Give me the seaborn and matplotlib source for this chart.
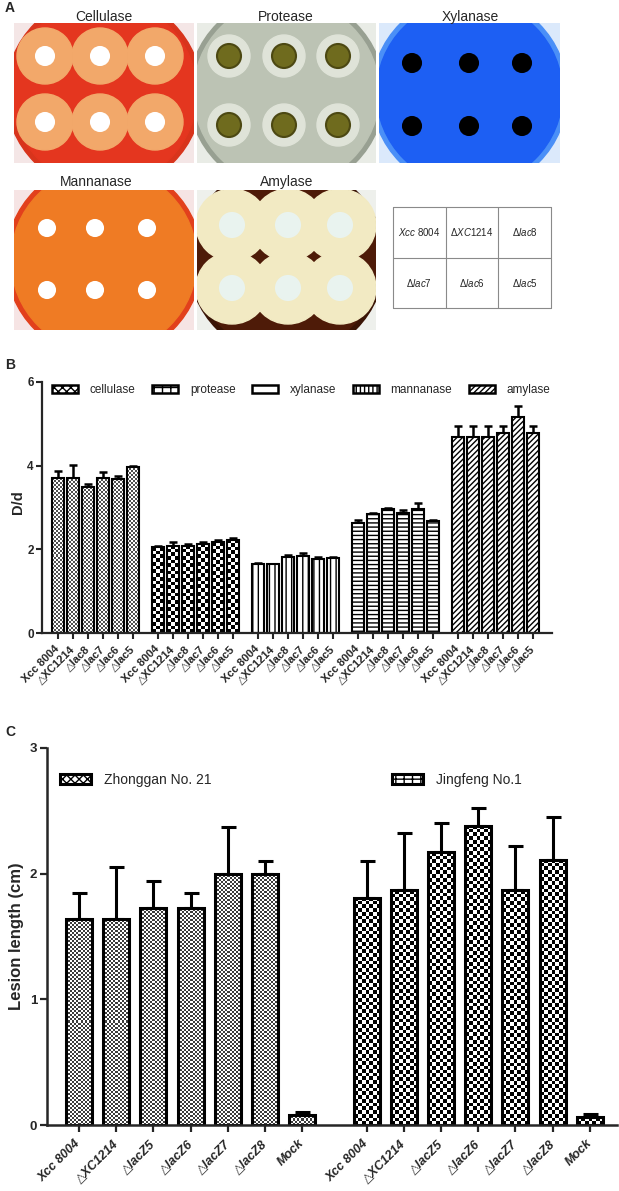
import numpy as np
import pandas as pd
import seaborn as sns
import matplotlib.pyplot as plt
from matplotlib.patches import Circle, Rectangle, Patch
from matplotlib.colors import ListedColormap

W, H = 619, 1191

# panel A : plate photos (drawn as simple sketches)
plate_names = ["Cellulase", "Protease", "Xylanase", "Mannanase", "Amylase"]
plate_boxes = [(14, 23, 180, 140), (197, 23, 179, 140), (379, 23, 181, 140),
               (14, 190, 180, 140), (197, 190, 179, 140)]
title_x = [104, 286, 470, 96, 287]
title_y = [17, 17, 17, 182, 182]
hole_cols = [[31, 86, 141], [32, 87, 141], [33, 90, 143], [33, 81, 133], [35, 91, 143]]
hole_rows = [[33, 99], [33, 102], [40, 103], [38, 100], [35, 98]]
# corner, rim, plate, halo, hole
plate_colors = [
    ("#f4e6e6", "#d8341c", "#e4361f", "#f2a86a", "#ffffff"),
    ("#e9ece6", "#98a092", "#bcc3b4", "#dfe3d8", "#6f6b1e"),
    ("#dbe9fb", "#4a8ff7", "#1d5ff3", "#1d5ff3", "#000000"),
    ("#f6e4e4", "#e2401c", "#ef7b24", "#ef7b24", "#ffffff"),
    ("#eef0ec", "#3a1405", "#4e1b08", "#f2eac3", "#e9f3ef"),
]
halo_r = [28, 21, 0, 0, 36]
hole_r = [9, 12, 9, 8, 12]
table_labels = [[r"$\mathit{Xcc}$ 8004", r"$\Delta\mathit{XC1214}$", r"$\Delta\mathit{lac8}$"],
                [r"$\Delta\mathit{lac7}$", r"$\Delta\mathit{lac6}$", r"$\Delta\mathit{lac5}$"]]

# panel B : D/d ratio per enzyme
strains_b = ["Xcc 8004", "\u25b3XC1214", "\u25b3lac8", "\u25b3lac7", "\u25b3lac6", "\u25b3lac5"]
enzymes = ["cellulase", "protease", "xylanase", "mannanase", "amylase"]
cellulase = [3.70, 3.71, 3.49, 3.71, 3.67, 3.97]
cellulase_sd = [0.18, 0.31, 0.07, 0.15, 0.09, 0.03]
protease = [2.05, 2.09, 2.08, 2.13, 2.17, 2.23]
protease_sd = [0.02, 0.08, 0.05, 0.04, 0.05, 0.03]
xylanase = [1.66, 1.64, 1.81, 1.84, 1.77, 1.79]
xylanase_sd = [0.02, 0.02, 0.06, 0.08, 0.04, 0.03]
mannanase = [2.62, 2.84, 2.96, 2.88, 2.96, 2.68]
mannanase_sd = [0.08, 0.03, 0.04, 0.06, 0.14, 0.03]
amylase = [4.69, 4.69, 4.69, 4.79, 5.17, 4.79]
amylase_sd = [0.25, 0.25, 0.25, 0.15, 0.25, 0.15]

# panel C : lesion length on two cultivars
strains_c = ["Xcc 8004", "\u25b3XC1214", "\u25b3lacZ5", "\u25b3lacZ6", "\u25b3lacZ7", "\u25b3lacZ8", "Mock"]
cultivars = ["Zhonggan No. 21", "Jingfeng No.1"]
zhonggan = [1.64, 1.64, 1.73, 1.73, 2.00, 2.00, 0.08]
zhonggan_sd = [0.21, 0.41, 0.21, 0.12, 0.37, 0.10, 0.02]
jingfeng = [1.81, 1.87, 2.17, 2.38, 1.87, 2.11, 0.06]
jingfeng_sd = [0.29, 0.45, 0.23, 0.14, 0.35, 0.34, 0.03]

sns.set_style("ticks")
plt.rcParams['font.family'] = ['Liberation Sans', 'DejaVu Sans']
plt.rcParams['mathtext.fontset'] = 'custom'
plt.rcParams['mathtext.rm'] = 'Liberation Sans'
plt.rcParams['mathtext.it'] = 'Liberation Sans:italic'
plt.rcParams['hatch.linewidth'] = 1.0

fig = plt.figure(figsize=(W / 100, H / 100), dpi=100)


def fig_rect(x, y, w, h):
    return [x / W, 1 - (y + h) / H, w / W, h / H]


def checker(ax, p, cell, c1, c2):
    # fill a bar with a checkerboard of fixed pixel size
    x0, y0, w, h = p.get_x(), p.get_y(), p.get_width(), p.get_height()
    (px0, py0), (px1, py1) = ax.transData.transform([(x0, y0), (x0 + w, y0 + h)])
    nx = max(1, int(round(abs(px1 - px0) / cell)))
    ny = max(1, int(round(abs(py1 - py0) / cell)))
    grid = np.add.outer(np.arange(ny), np.arange(nx)) % 2
    z = p.get_zorder()
    ax.imshow(grid, extent=(x0, x0 + w, y0, y0 + h), origin='lower', aspect='auto',
              cmap=ListedColormap([c1, c2]), interpolation='nearest', zorder=z + 0.01)
    p.set_facecolor('none')
    p.set_zorder(z + 0.02)


# ---------------- panel A
fig.text(5 / W, 1 - 8 / H, "A", fontsize=10, fontweight='bold', va='center')
for k, name in enumerate(plate_names):
    x, y, w, h = plate_boxes[k]
    ax = fig.add_axes(fig_rect(x, y, w, h))
    ax.set_xlim(0, w)
    ax.set_ylim(h, 0)
    ax.axis('off')
    corner, rim, plate, halo, hole = plate_colors[k]
    ax.add_patch(Rectangle((0, 0), w, h, color=corner))
    ax.add_patch(Circle((w / 2, h / 2), 98, color=rim))
    ax.add_patch(Circle((w / 2, h / 2), 93, color=plate))
    for cy in hole_rows[k]:
        for cx in hole_cols[k]:
            if halo_r[k]:
                ax.add_patch(Circle((cx, cy), halo_r[k], color=halo))
    for cy in hole_rows[k]:
        for cx in hole_cols[k]:
            ax.add_patch(Circle((cx, cy), hole_r[k], facecolor=hole,
                                edgecolor='#4c4812' if k == 1 else hole, lw=1.5))
    fig.text(title_x[k] / W, 1 - title_y[k] / H, name, fontsize=10, ha='center', va='center')

axt = fig.add_axes(fig_rect(393, 207, 158, 101))
axt.set_xlim(0, 3)
axt.set_ylim(2, 0)
axt.axis('off')
for i in range(4):
    axt.plot([i, i], [0, 2], color='#8a8a8a', lw=0.8, clip_on=False)
for j in range(3):
    axt.plot([0, 3], [j, j], color='#8a8a8a', lw=0.8, clip_on=False)
for r, row in enumerate(table_labels):
    for c, lab in enumerate(row):
        axt.text(c + 0.5, r + 0.5, lab, ha='center', va='center', fontsize=7)

# ---------------- panel B
axb = fig.add_axes(fig_rect(42, 382, 510, 251))
fig.text(5 / W, 1 - 365 / H, "B", fontsize=10, fontweight='bold', va='center')
values_b = {"cellulase": (cellulase, cellulase_sd), "protease": (protease, protease_sd),
            "xylanase": (xylanase, xylanase_sd), "mannanase": (mannanase, mannanase_sd),
            "amylase": (amylase, amylase_sd)}
rows = []
for g, e in enumerate(enzymes):
    for i, s in enumerate(strains_b):
        rows.append({"enzyme": e, "strain": s, "pos": g * (len(strains_b) + 0.667) + i,
                     "value": values_b[e][0][i], "sd": values_b[e][1][i]})
df_b = pd.DataFrame(rows)

axb.set_xlim(-1.07, 32.93)
axb.set_ylim(0, 6)
style_b = {"cellulase": ("checker", 2.0, '#505050'), "protease": ("checker", 3.7, 'black'),
           "xylanase": ("hatch", '|||'), "mannanase": ("hatch", '----'),
           "amylase": ("hatch", '//////')}
for e in enzymes:
    sub = df_b[df_b['enzyme'] == e]
    n0 = len(axb.patches)
    sns.barplot(data=sub, x='pos', y='value', native_scale=True, orient='x', color='white',
                edgecolor='black', linewidth=1.5, width=0.75, errorbar=None, ax=axb)
    axb.errorbar(sub['pos'], sub['value'], yerr=[np.zeros(len(sub)), sub['sd']], fmt='none',
                 ecolor='black', elinewidth=1.8, capsize=3, capthick=1.8, zorder=0.5)
    axb.set_xlim(-1.07, 32.93)
    axb.set_ylim(0, 6)
    for p in axb.patches[n0:]:
        st = style_b[e]
        if st[0] == "checker":
            checker(axb, p, st[1], st[2], 'white')
        else:
            p.set_hatch(st[1])
axb.set_xlim(-1.07, 32.93)
axb.set_ylim(0, 6)
sns.despine(ax=axb)
for sp in ['left', 'bottom']:
    axb.spines[sp].set_linewidth(1.6)
axb.set_yticks([0, 2, 4, 6])
axb.set_yticklabels(['0', '2', '4', '6'], fontsize=8.5, fontweight='bold')
axb.set_xticks(df_b['pos'])
axb.set_xticklabels(df_b['strain'], rotation=45, ha='right', va='center',
                    rotation_mode='anchor', fontsize=8, fontweight='bold')
axb.tick_params(length=4, width=1.5, pad=2)
axb.tick_params(axis='x', pad=6)
axb.set_xlabel('')
axb.set_ylabel('D/d', fontsize=10.5, fontweight='bold')
axb.yaxis.set_label_coords(-0.033, 0.52)

leg_hatch = ['xxxx', '++', '', '||||', '//////']
handles = [Patch(facecolor='white', edgecolor='black', linewidth=1.8, hatch=hh) for hh in leg_hatch]
axb.legend(handles, enzymes, ncol=5, loc='center left', bbox_to_anchor=(52 / W, 1 - 390 / H),
           bbox_transform=fig.transFigure, frameon=False, fontsize=8.5, handlelength=2.2,
           handleheight=0.7, handletextpad=1.0, columnspacing=1.4, borderpad=0, borderaxespad=0)

# ---------------- panel C
axc = fig.add_axes(fig_rect(47, 748, 570, 377))
fig.text(5 / W, 1 - 732 / H, "C", fontsize=10, fontweight='bold', va='center')
values_c = {"Zhonggan No. 21": (zhonggan, zhonggan_sd), "Jingfeng No.1": (jingfeng, jingfeng_sd)}
rows = []
for g, cv in enumerate(cultivars):
    for i, s in enumerate(strains_c):
        rows.append({"cultivar": cv, "strain": s, "pos": g * (len(strains_c) + 0.73) + i,
                     "value": values_c[cv][0][i], "sd": values_c[cv][1][i]})
df_c = pd.DataFrame(rows)

xl_c = (-0.86, 14.46)
axc.set_xlim(*xl_c)
axc.set_ylim(0, 3)
style_c = {"Zhonggan No. 21": (2.0, '#3c3c3c'), "Jingfeng No.1": (3.7, 'black')}
for cv in cultivars:
    sub = df_c[df_c['cultivar'] == cv]
    n0 = len(axc.patches)
    sns.barplot(data=sub, x='pos', y='value', native_scale=True, orient='x', color='white',
                edgecolor='black', linewidth=2.2, width=0.7, errorbar=None, ax=axc)
    axc.errorbar(sub['pos'], sub['value'], yerr=[np.zeros(len(sub)), sub['sd']], fmt='none',
                 ecolor='black', elinewidth=2.2, capsize=5.4, capthick=2.2, zorder=0.5)
    axc.set_xlim(*xl_c)
    axc.set_ylim(0, 3)
    for p in axc.patches[n0:]:
        checker(axc, p, style_c[cv][0], style_c[cv][1], 'white')
axc.set_xlim(*xl_c)
axc.set_ylim(0, 3)
sns.despine(ax=axc)
for sp in ['left', 'bottom']:
    axc.spines[sp].set_linewidth(1.8)
axc.set_yticks([0, 1, 2, 3])
axc.set_yticklabels(['0', '1', '2', '3'], fontsize=9.5, fontweight='bold')
axc.set_xticks(df_c['pos'])
axc.set_xticklabels(df_c['strain'], rotation=45, ha='right', va='center',
                    rotation_mode='anchor', fontsize=9, fontweight='bold', fontstyle='italic')
axc.tick_params(length=5, width=1.6, pad=2)
axc.tick_params(axis='x', pad=7)
axc.set_xlabel('')
axc.set_ylabel('Lesion length (cm)', fontsize=12, fontweight='bold')
axc.yaxis.set_label_coords(-0.04, 0.5)

h1 = [Patch(facecolor='white', edgecolor='black', linewidth=2.2, hatch='xxxx')]
h2 = [Patch(facecolor='white', edgecolor='black', linewidth=2.2, hatch='++')]
leg1 = axc.legend(h1, [cultivars[0]], loc='center left', bbox_to_anchor=(60 / W, 1 - 780 / H),
                  bbox_transform=fig.transFigure, frameon=False, fontsize=10, handlelength=2.2,
                  handleheight=0.7, handletextpad=1.0, borderpad=0, borderaxespad=0)
axc.add_artist(leg1)
axc.legend(h2, [cultivars[1]], loc='center left', bbox_to_anchor=(392 / W, 1 - 780 / H),
           bbox_transform=fig.transFigure, frameon=False, fontsize=10, handlelength=2.2,
           handleheight=0.7, handletextpad=1.0, borderpad=0, borderaxespad=0)

fig.savefig('out.png', dpi=100, facecolor='white')
